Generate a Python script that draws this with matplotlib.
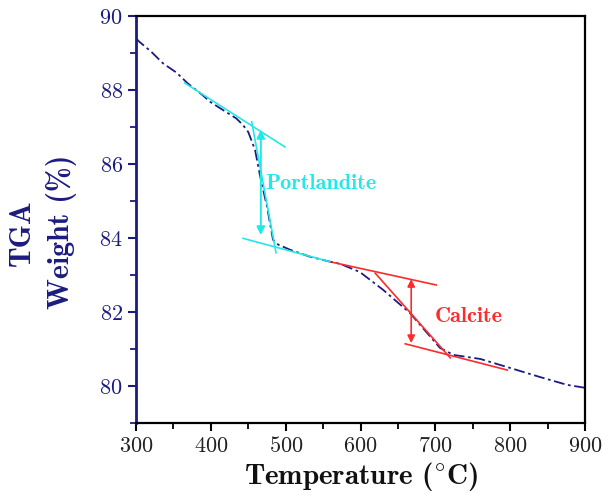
import matplotlib
matplotlib.use("Agg")
import matplotlib.pyplot as plt
from matplotlib.ticker import MultipleLocator

plt.rcParams['font.family'] = ['cmr10', 'DejaVu Serif']
plt.rcParams['mathtext.fontset'] = 'cm'
plt.rcParams['axes.formatter.use_mathtext'] = True

# TGA curve
temperature = [300, 304, 320, 336, 354, 369, 389, 399, 416, 434, 443, 450, 459, 466,
               475, 483, 490, 506, 533, 559, 573, 599, 630, 666, 706, 724, 760, 796,
               840, 876, 900]
weight = [89.40, 89.31, 89.04, 88.72, 88.47, 88.18, 87.86, 87.68, 87.46, 87.23, 87.05,
          86.86, 86.38, 85.65, 84.84, 83.95, 83.82, 83.68, 83.49, 83.36, 83.30, 83.08,
          82.60, 81.97, 81.03, 80.84, 80.73, 80.51, 80.24, 80.03, 79.95]

# Tangent construction lines (x pair, y pair)
portlandite_lines = [([365, 499], [88.19, 86.46]),
                     ([454.5, 487], [87.14, 83.60]),
                     ([443, 559], [83.99, 83.36])]
portlandite_arrow = (466.7, 86.92, 84.08)
calcite_lines = [([563, 701], [83.34, 82.73]),
                 ([619.5, 719.8], [83.05, 80.76]),
                 ([659.6, 796], [81.14, 80.43])]
calcite_arrow = (667.6, 82.89, 81.16)

navy = '#1c1c80'
cyan = '#22e8e8'
red = '#ff2a2a'
bold = ['cmb10', 'DejaVu Serif']

fig = plt.figure(figsize=(6.02, 4.95), dpi=100)
ax = fig.add_axes([0.226, 0.1455, 0.746, 0.8222])

ax.plot(temperature, weight, color=navy, lw=1.3, linestyle=(0, (6, 2, 1.5, 2)))

for xs, ys in portlandite_lines:
    ax.plot(xs, ys, color=cyan, lw=1.2)
for xs, ys in calcite_lines:
    ax.plot(xs, ys, color=red, lw=1.2)

ax.annotate('', xy=(portlandite_arrow[0], portlandite_arrow[2]),
            xytext=(portlandite_arrow[0], portlandite_arrow[1]),
            arrowprops=dict(arrowstyle='<|-|>', color=cyan, lw=1.4,
                            mutation_scale=12, shrinkA=0, shrinkB=0))
ax.annotate('', xy=(calcite_arrow[0], calcite_arrow[2]),
            xytext=(calcite_arrow[0], calcite_arrow[1]),
            arrowprops=dict(arrowstyle='<|-|>', color=red, lw=1.2,
                            mutation_scale=11, shrinkA=0, shrinkB=0))

ax.text(473, 85.46, 'Portlandite', color=cyan, fontsize=16, va='center', ha='left',
        family=bold)
ax.text(698.6, 81.89, 'Calcite', color=red, fontsize=16, va='center', ha='left',
        family=bold)

ax.set_xlim(300, 900)
ax.set_ylim(79, 90)
ax.xaxis.set_major_locator(MultipleLocator(100))
ax.xaxis.set_minor_locator(MultipleLocator(50))
ax.yaxis.set_major_locator(MultipleLocator(2))
ax.yaxis.set_minor_locator(MultipleLocator(1))

ax.tick_params(axis='both', which='major', direction='out', length=6, width=1.5,
               labelsize=16)
ax.tick_params(axis='both', which='minor', direction='out', length=4, width=1.3)
ax.tick_params(axis='y', which='both', colors=navy, labelcolor=navy)
ax.tick_params(axis='x', which='both', colors='black', labelcolor='#222222')

for s in ['top', 'right', 'bottom']:
    ax.spines[s].set_color('black')
    ax.spines[s].set_linewidth(1.6)
ax.spines['left'].set_color(navy)
ax.spines['left'].set_linewidth(2.0)

fig.text(361/602, 1 - 484/495, r'Temperature ($^{\circ}$C)', fontsize=21,
         color='#111111', ha='center', va='baseline', family=bold)

fig.text(22/602, 1 - 233/495, 'TGA', rotation=90, color=navy,
         fontsize=21.5, ha='center', va='center', family=bold)
fig.text(61/602, 1 - 232/495, 'Weight (%)', rotation=90, color=navy,
         fontsize=21.5, ha='center', va='center', family=bold)

fig.savefig('out.png', dpi=100)
